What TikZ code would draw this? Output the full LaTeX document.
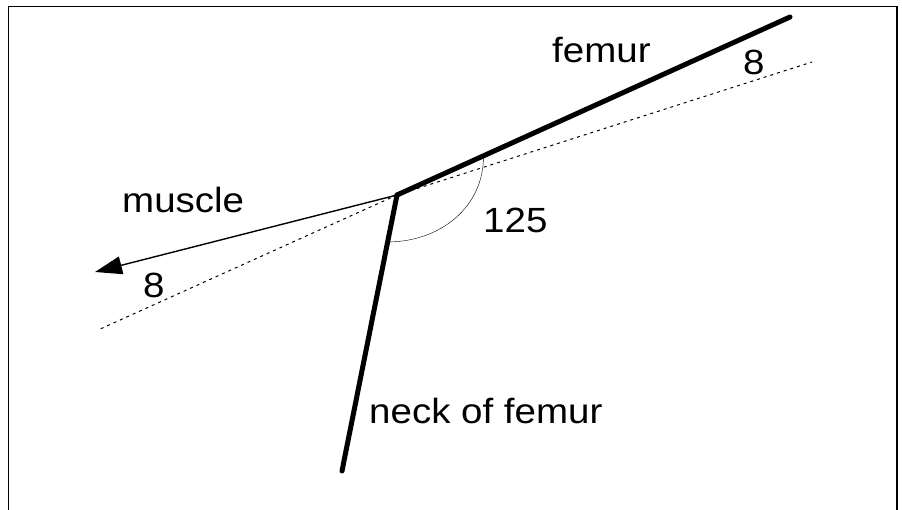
\documentclass[tikz,border=0pt]{standalone}
\usepackage{fontspec}
\setmainfont{Liberation Sans}
\usetikzlibrary{arrows.meta,calc}
\newcommand{\lblfont}{\fontsize{35}{40}\selectfont}
\newcommand{\wide}[1]{\scalebox{1.1}[1]{#1}}
\tikzset{
  bone/.style={line width=5pt,line cap=round},
  guide/.style={line width=1pt,dash pattern=on 3pt off 4pt},
  force/.style={line width=1.4pt,-{Triangle[length=27pt,width=18pt]}},
  lbl/.style={inner sep=0pt,anchor=base west,font=\lblfont},
  frame/.style={line width=1.8pt}
}
\begin{document}
\begin{tikzpicture}[x=1pt,y=-1pt]
\useasboundingbox (0,0) rectangle (902,510);
\begin{scope}
\clip (0,0) rectangle (902,510);
\draw[frame] (8.5,6.5) rectangle (897,530);
\end{scope}
\coordinate (V) at (397,195);
\coordinate (F) at (790,17);
\coordinate (N) at (342,471);
\coordinate (M) at (95,272);
\coordinate (D1) at (812,62);
\coordinate (D2) at (98,330);
\coordinate (A1) at ($(V)!0.22!(F)$);
\coordinate (A2) at ($(V)!0.17!(N)$);
\draw[guide] (V) -- (D1);
\draw[guide] (V) -- (D2);
\draw[force] (V) -- (M);
\draw (A1) .. controls (484,207) and (440,242) .. (A2);
\draw[bone] (V) -- (F);
\draw[bone] (V) -- (N);
\node[lbl] (tf) at (552,63) {\wide{femur}};
\node[lbl] (t8r) at (743,75) {\wide{8}};
\node[lbl] (tm) at (122,213) {\wide{muscle}};
\node[lbl] (t8l) at (143,298) {\wide{8}};
\node[lbl] (t125) at (483,233) {\wide{125}};
\node[lbl] (tn) at (369,423) {\wide{neck of femur}};
\end{tikzpicture}
\end{document}
